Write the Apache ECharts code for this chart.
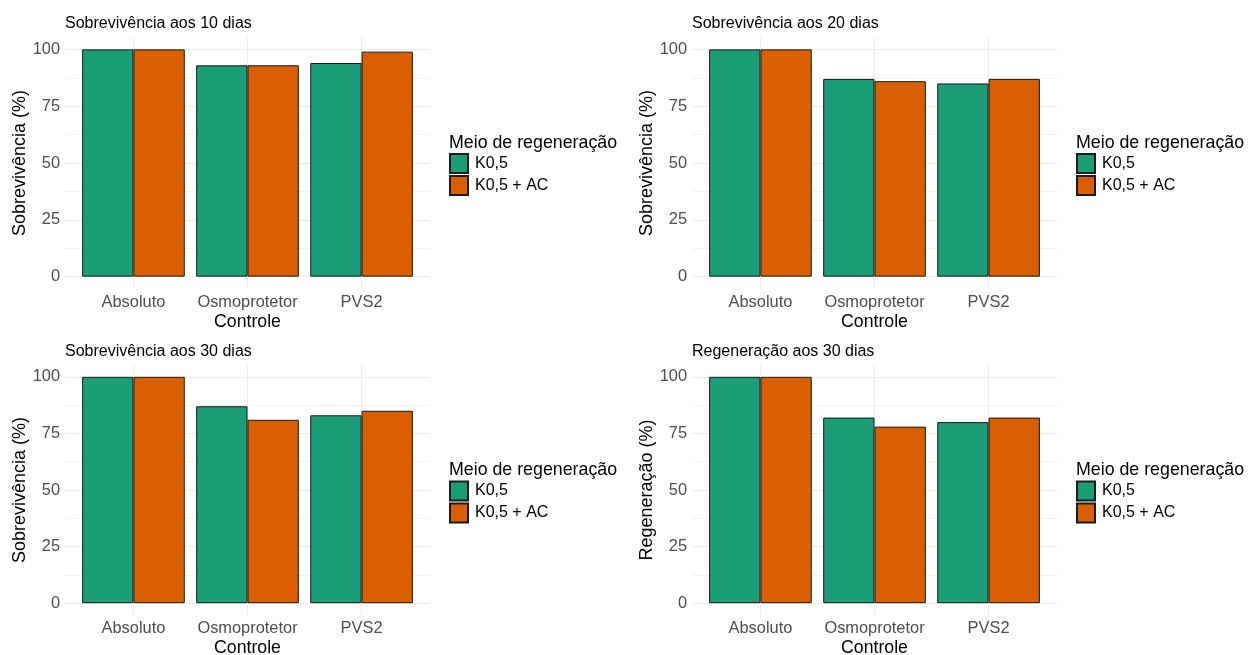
<!DOCTYPE html>
<html>
<head>
<meta charset="utf-8">
<script src="https://cdn.jsdelivr.net/npm/echarts@6/dist/echarts.min.js"></script>
<style>html,body{margin:0;padding:0;background:#fff}#c{width:1250px;height:655px}</style>
</head>
<body>
<div id="c"></div>
<script>
// ---- data ----
const categories = ['Absoluto', 'Osmoprotetor', 'PVS2'];
const seriesNames = ['K0,5', 'K0,5 + AC'];
const panelTitles = ['Sobrevivência aos 10 dias', 'Sobrevivência aos 20 dias', 'Sobrevivência aos 30 dias', 'Regeneração aos 30 dias'];
const yTitles = ['Sobrevivência (%)', 'Sobrevivência (%)', 'Sobrevivência (%)', 'Regeneração (%)'];
const xTitle = 'Controle';
const legendTitle = 'Meio de regeneração';
const yTicks = [0, 25, 50, 75, 100];
const yGridValues = [0, 12.5, 25, 37.5, 50, 62.5, 75, 87.5, 100];

const surv10_K05 = [100, 93, 94];
const surv10_K05AC = [100, 93, 99];
const surv20_K05 = [100, 87, 85];
const surv20_K05AC = [100, 86, 87];
const surv30_K05 = [100, 87, 83];
const surv30_K05AC = [100, 81, 85];
const regen30_K05 = [100, 82, 80];
const regen30_K05AC = [100, 78, 82];

const panelData = [
  [surv10_K05, surv10_K05AC],
  [surv20_K05, surv20_K05AC],
  [surv30_K05, surv30_K05AC],
  [regen30_K05, regen30_K05AC]
];

// ---- layout / style ----
const FONT = "'Liberation Sans', Arial, sans-serif";
const colors = ['#1b9e77', '#d95f02'];
const grids = [
  { left: 65, top: 38, width: 365, height: 250, outerBoundsMode: 'none', containLabel: false },
  { left: 692, top: 38, width: 365, height: 250, outerBoundsMode: 'none', containLabel: false },
  { left: 65, top: 365.5, width: 365, height: 249, outerBoundsMode: 'none', containLabel: false },
  { left: 692, top: 365.5, width: 365, height: 249, outerBoundsMode: 'none', containLabel: false }
];
const catPositions = categories.map((c, k) => k + 1);

const option = {
  animation: false,
  backgroundColor: '#ffffff',
  textStyle: { fontFamily: FONT },
  grid: grids,
  title: [],
  legend: [],
  xAxis: [],
  yAxis: [],
  series: []
};

grids.forEach((g, i) => {
  option.title.push({
    text: panelTitles[i], left: g.left, top: g.top - 22, padding: 0,
    textStyle: { fontFamily: FONT, fontSize: 16, fontWeight: 'normal', color: '#000' }
  });
  option.title.push({
    text: legendTitle, left: g.left + g.width + 19, top: g.top + 96, padding: 0,
    textStyle: { fontFamily: FONT, fontSize: 17.8, fontWeight: 'normal', color: '#000' }
  });
  option.legend.push({
    data: seriesNames, orient: 'vertical', left: g.left + g.width + 19, top: g.top + 115,
    icon: 'rect', itemWidth: 18, itemHeight: 19, itemGap: 1, padding: 0,
    selectedMode: false,
    textStyle: { fontFamily: FONT, fontSize: 16, color: '#000', padding: [0, 0, 0, 2] }
  });
  option.xAxis.push({
    gridIndex: i, type: 'value', min: 0.4, max: 3.6,
    name: xTitle, nameLocation: 'middle', nameGap: 25,
    nameTextStyle: { fontFamily: FONT, fontSize: 17.7, color: '#000' },
    axisLine: { show: false },
    axisTick: { show: false, customValues: catPositions },
    axisLabel: {
      fontFamily: FONT, fontSize: 16.4, color: '#4d4d4d', margin: 6,
      customValues: catPositions,
      formatter: v => categories[Math.round(v) - 1] || ''
    },
    splitLine: { show: true, lineStyle: { color: '#ebebeb', width: 1 } }
  });
  option.yAxis.push({
    gridIndex: i, type: 'value', min: -5, max: 105,
    name: yTitles[i], nameLocation: 'middle', nameGap: 34,
    nameTextStyle: { fontFamily: FONT, fontSize: 18, color: '#000' },
    axisLine: { show: false },
    axisTick: { show: false, customValues: yGridValues },
    axisLabel: {
      fontFamily: FONT, fontSize: 16.4, color: '#4d4d4d', margin: 5,
      customValues: yTicks,
      formatter: v => String(v)
    },
    splitLine: { show: true, lineStyle: { color: ['#ebebeb', '#f3f3f3'], width: 1 } }
  });
  panelData[i].forEach((vals, s) => {
    option.series.push({
      type: 'bar', name: seriesNames[s], xAxisIndex: i, yAxisIndex: i,
      data: vals.map((v, k) => [catPositions[k], v]),
      barGap: '0%', barCategoryGap: '10%',
      itemStyle: { color: colors[s], borderColor: '#1a1a1a', borderWidth: 1 }
    });
  });
});

const chart = echarts.init(document.getElementById('c'), null, { renderer: 'canvas' });
chart.setOption(option);
</script>
</body>
</html>
